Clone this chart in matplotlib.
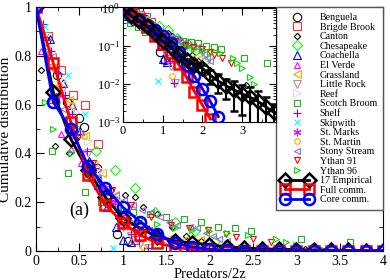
import matplotlib
matplotlib.use('Agg')
import matplotlib.pyplot as plt
import numpy as np
from matplotlib.legend_handler import HandlerLine2D
from matplotlib.ticker import MultipleLocator, LogLocator, NullFormatter, FuncFormatter

plt.rcParams['font.family'] = ['Liberation Serif', 'DejaVu Serif']
plt.rcParams['mathtext.fontset'] = 'stix'

# averaged curves (x = predators/2z)
x_avg = [0.0, 0.2, 0.4, 0.6, 0.8, 1.0, 1.2, 1.4, 1.6, 1.8, 2.0,
         2.2, 2.4, 2.6, 2.8, 3.0, 3.2, 3.4, 3.6, 3.8, 4.0]
emp = [1.0, 0.65, 0.46, 0.33, 0.22, 0.135, 0.093, 0.058, 0.042, 0.032, 0.026,
       0.017, 0.012, 0.009, 0.007, 0.0055, 0.0045, 0.0035, 0.0025, 0.0018, 0.0013]
emp_err = [0.0, 0.01, 0.01, 0.01, 0.008, 0.006, 0.005, 0.004, 0.004, 0.005, 0.006,
           0.007, 0.006, 0.005, 0.005, 0.004, 0.0037, 0.003, 0.0022, 0.0012, 0.0008]
full = [1.0, 0.77, 0.53, 0.31, 0.19, 0.115, 0.065, 0.033, 0.015, 0.0063, 0.0028,
        0.0012, 0, 0, 0, 0, 0, 0, 0, 0, 0]
core = [1.0, 0.61, 0.50, 0.35, 0.26, 0.18, 0.12, 0.07, 0.032, 0.016, 0.0075,
        0.0035, 0.0014, 0, 0, 0, 0, 0, 0, 0, 0]

# individual food webs
benguela_x = [0, 0.12, 0.24, 0.36, 0.49, 0.55, 0.70, 0.82, 0.93, 1.06]
benguela_y = [1, 0.86, 0.72, 0.61, 0.545, 0.51, 0.34, 0.2, 0.07, 0.043]
brigde_x = [0, 0.14, 0.29, 0.43, 0.57, 0.71, 0.86, 1.0, 1.14]
brigde_y = [1, 0.88, 0.74, 0.64, 0.6, 0.44, 0.2, 0.115, 0.045]
canton_x = [0, 0.06, 0.22, 0.38, 0.55, 0.71, 0.87, 1.03, 1.14, 1.23, 1.4, 1.57, 1.73, 1.9, 2.06, 3.1]
canton_y = [1, 0.74, 0.43, 0.4, 0.35, 0.3, 0.25, 0.23, 0.22, 0.18, 0.15, 0.1, 0.06, 0.04, 0.02, 0.0095]
chesapeake_x = [0, 0.23, 0.46, 0.69, 0.91, 1.14, 1.37, 1.6, 1.83, 2.06]
chesapeake_y = [1, 0.66, 0.5, 0.41, 0.33, 0.26, 0.16, 0.12, 0.08, 0.04]
coachella_x = [0, 0.16, 0.31, 0.41, 0.51, 0.61, 0.71, 0.82, 0.92, 1.0, 1.1]
coachella_y = [1, 0.87, 0.69, 0.6, 0.49, 0.37, 0.27, 0.18, 0.1, 0.045, 0.038]
elverde_x = [0, 0.06, 0.17, 0.29, 0.4, 0.52, 0.63, 0.75, 0.86, 0.98, 1.1, 1.21, 1.33, 1.44]
elverde_y = [1, 0.82, 0.62, 0.48, 0.42, 0.36, 0.3, 0.25, 0.2, 0.15, 0.12, 0.09, 0.07, 0.05]
grassland_x = [0, 0.19, 0.38, 0.57, 0.76, 0.91, 1.14, 1.33, 1.52, 1.71, 1.89]
grassland_y = [1, 0.75, 0.62, 0.47, 0.32, 0.23, 0.12, 0.05, 0.048, 0.047, 0.046]
littlerock_x = [0, 0.1, 0.2, 0.3, 0.4, 0.5, 0.6, 0.7, 0.8, 0.9, 1.0, 1.1, 1.2, 1.3]
littlerock_y = [1, 0.88, 0.75, 0.66, 0.57, 0.48, 0.4, 0.32, 0.24, 0.17, 0.1, 0.06, 0.03, 0.011]
reef_x = [0, 0.15, 0.3, 0.45, 0.6, 0.75, 0.9, 1.05, 1.2, 1.35, 1.5]
reef_y = [1, 0.84, 0.7, 0.57, 0.45, 0.33, 0.23, 0.16, 0.1, 0.06, 0.03]
scotch_x = [0, 0.18, 0.37, 0.56, 0.75, 0.94, 1.12, 1.31, 1.5, 1.71, 1.9, 2.1, 2.29, 2.48, 3.05, 3.62]
scotch_y = [1, 0.41, 0.32, 0.24, 0.2, 0.18, 0.16, 0.15, 0.14, 0.13, 0.12, 0.1, 0.094, 0.082, 0.05, 0.035]
shelf_x = [0, 0.08, 0.17, 0.25, 0.34, 0.42, 0.51, 0.59, 0.68, 0.76, 0.85, 0.93, 1.02, 1.1, 1.19, 1.29]
shelf_y = [1, 0.93, 0.82, 0.73, 0.64, 0.56, 0.48, 0.41, 0.34, 0.27, 0.21, 0.16, 0.11, 0.07, 0.04, 0.011]
skipwith_x = [0, 0.1, 0.37, 0.57, 0.7, 0.89]
skipwith_y = [1, 0.92, 0.72, 0.56, 0.3, 0.012]
stmarks_x = [0, 0.13, 0.26, 0.39, 0.52, 0.65, 0.78, 0.91, 1.04, 1.17, 1.3, 1.43, 1.56]
stmarks_y = [1, 0.8, 0.64, 0.5, 0.4, 0.33, 0.26, 0.2, 0.15, 0.12, 0.09, 0.06, 0.03]
stmartin_x = [0, 0.14, 0.27, 0.41, 0.55, 0.68, 0.82, 0.96, 1.09, 1.23]
stmartin_y = [1, 0.8, 0.68, 0.6, 0.47, 0.36, 0.27, 0.2, 0.1, 0.016]
stony_x = [0, 0.1, 0.2, 0.31, 0.41, 0.51, 0.61, 0.71, 0.82, 0.92, 1.02, 1.12,
           1.22, 1.33, 1.43, 1.53, 1.63, 1.77, 1.86, 1.96, 2.04, 2.11, 2.2]
stony_y = [1, 0.82, 0.8, 0.58, 0.47, 0.4, 0.35, 0.3, 0.26, 0.23, 0.21, 0.19,
           0.17, 0.16, 0.14, 0.12, 0.105, 0.098, 0.094, 0.074, 0.062, 0.05, 0.04]
ythan91_x = [0, 0.22, 0.44, 0.66, 0.88, 1.1, 1.32, 1.56, 1.76, 1.98, 2.19, 2.3, 2.5, 2.71]
ythan91_y = [1, 0.62, 0.47, 0.36, 0.25, 0.19, 0.14, 0.107, 0.095, 0.086, 0.07, 0.058, 0.048, 0.037]
ythan96_x = [0, 0.1, 0.2, 0.4, 0.6, 0.8, 1.0, 1.2, 1.4, 1.6, 1.8, 2.0, 2.2, 2.44, 2.77, 2.88, 3.0, 3.2, 3.3]
ythan96_y = [1, 0.61, 0.5, 0.4, 0.31, 0.23, 0.17, 0.13, 0.11, 0.095, 0.085, 0.08, 0.072, 0.066,
             0.049, 0.037, 0.026, 0.015, 0.01]

# name, x, y, marker, colour, size
webs = [
    ('Benguela', benguela_x, benguela_y, 'o', 'black', 6),
    ('Brigde Brook', brigde_x, brigde_y, 's', '#ff3030', 5.5),
    ('Canton', canton_x, canton_y, 'D', 'black', 3.2),
    ('Chesapeake', chesapeake_x, chesapeake_y, 'D', '#00ff00', 5),
    ('Coachella', coachella_x, coachella_y, '^', '#0000ff', 6),
    ('El Verde', elverde_x, elverde_y, '^', '#ff00ff', 4.5),
    ('Grassland', grassland_x, grassland_y, '<', '#ffa500', 6),
    ('Little Rock', littlerock_x, littlerock_y, 'v', '#bc8f8f', 6),
    ('Reef', reef_x, reef_y, '>', '#dcdcdc', 6),
    ('Scotch Broom', scotch_x, scotch_y, 's', '#22b022', 5),
    ('Shelf', shelf_x, shelf_y, '+', '#9400d3', 6),
    ('Skipwith', skipwith_x, skipwith_y, 'x', '#00ffff', 5),
    ('St. Marks', stmarks_x, stmarks_y, (6, 2, 0), '#ff00ff', 5.5),
    ('St. Martin', stmartin_x, stmartin_y, 'o', '#ffa500', 4),
    ('Stony Stream', stony_x, stony_y, '<', '#9370db', 4.5),
    ('Ythan 91', ythan91_x, ythan91_y, 'v', '#ff0000', 4.5),
    ('Ythan 96', ythan96_x, ythan96_y, '>', '#00e000', 4.5),
]

fig = plt.figure(figsize=(3.9, 2.8), dpi=100)
ax = fig.add_axes([0.0923, 0.1036, 0.8897, 0.8714])

handles = []
for name, x, y, m, c, s in webs:
    h, = ax.plot(x, y, ls='none', marker=m, ms=s, mfc='none', mec=c, mew=0.8,
                 label=name, zorder=2)
    handles.append(h)

line_kw = dict(mfc='none', mew=1.8, lw=2, zorder=4)
h_emp, = ax.plot(x_avg, emp, color='black', marker='D', ms=7, label='17 Empirical', **line_kw)
h_full, = ax.plot(x_avg, full, color='red', marker='s', ms=7, label='Full comm.', **line_kw)
h_core, = ax.plot(x_avg, core, color='blue', marker='o', ms=8, label='Core comm.', **line_kw)

ax.set_xlim(0, 4)
ax.set_ylim(0, 1)
ax.xaxis.set_major_locator(MultipleLocator(0.5))
ax.xaxis.set_minor_locator(MultipleLocator(0.25))
ax.yaxis.set_major_locator(MultipleLocator(0.2))
ax.yaxis.set_minor_locator(MultipleLocator(0.1))
fmt = FuncFormatter(lambda v, p: '%g' % round(v, 2))
ax.xaxis.set_major_formatter(fmt)
ax.yaxis.set_major_formatter(fmt)
ax.tick_params(which='both', direction='in', top=True, right=True, labelsize=10, pad=3)
ax.tick_params(which='major', length=6)
ax.tick_params(which='minor', length=3)
ax.set_xlabel('Predators/2z', fontsize=10.5, labelpad=0)
ax.set_ylabel('Cumulative distribution', fontsize=11, labelpad=2)
ax.text(0.5, 0.165, '(a)', fontsize=13, ha='center', va='center')

hmap = {h: HandlerLine2D(numpoints=1) for h in handles}
leg = ax.legend(handles + [h_emp, h_full, h_core], [w[0] for w in webs] + ['17 Empirical', 'Full comm.', 'Core comm.'],
                loc='upper right', bbox_to_anchor=(1.0, 1.0), borderaxespad=0,
                fontsize=7.2, labelspacing=0.06, handlelength=3.0, handletextpad=0.8,
                borderpad=0.6, fancybox=False, framealpha=1, edgecolor='#555555',
                numpoints=2, handler_map=hmap)
leg.get_frame().set_linewidth(1.0)
leg.set_zorder(10)

# inset on log scale
axin = fig.add_axes([0.3154, 0.564, 0.392, 0.407])
for name, x, y, m, c, s in webs:
    axin.plot(x, y, ls='none', marker=m, ms=s, mfc='none', mec=c, mew=0.8, zorder=2)

xa = np.array(x_avg)
emp_a = np.array(emp)
axin.errorbar(xa, emp_a, yerr=emp_err, color='black', marker='D', ms=7, mfc='none',
              mew=1.8, lw=2, elinewidth=1.5, capsize=3, capthick=1.5, zorder=4)
full_a = np.array(full, dtype=float)
core_a = np.array(core, dtype=float)
axin.plot(xa, np.where(full_a > 0, full_a, np.nan), color='red', marker='s', ms=7, **line_kw)
axin.plot(xa, np.where(core_a > 0, core_a, np.nan), color='blue', marker='o', ms=8, **line_kw)

axin.set_yscale('log')
axin.set_xlim(0, 3.85)
axin.set_ylim(1e-3, 1)
axin.xaxis.set_major_locator(MultipleLocator(1))
axin.xaxis.set_minor_locator(MultipleLocator(0.5))
axin.yaxis.set_major_locator(LogLocator(base=10, numticks=10))
axin.yaxis.set_minor_locator(LogLocator(base=10, subs=np.arange(2, 10), numticks=10))
axin.yaxis.set_minor_formatter(NullFormatter())
axin.tick_params(which='both', direction='in', top=True, right=True, labelsize=9, pad=2)
axin.tick_params(which='major', length=5)
axin.tick_params(which='minor', length=2.5)

fig.savefig('out.png', dpi=100)
